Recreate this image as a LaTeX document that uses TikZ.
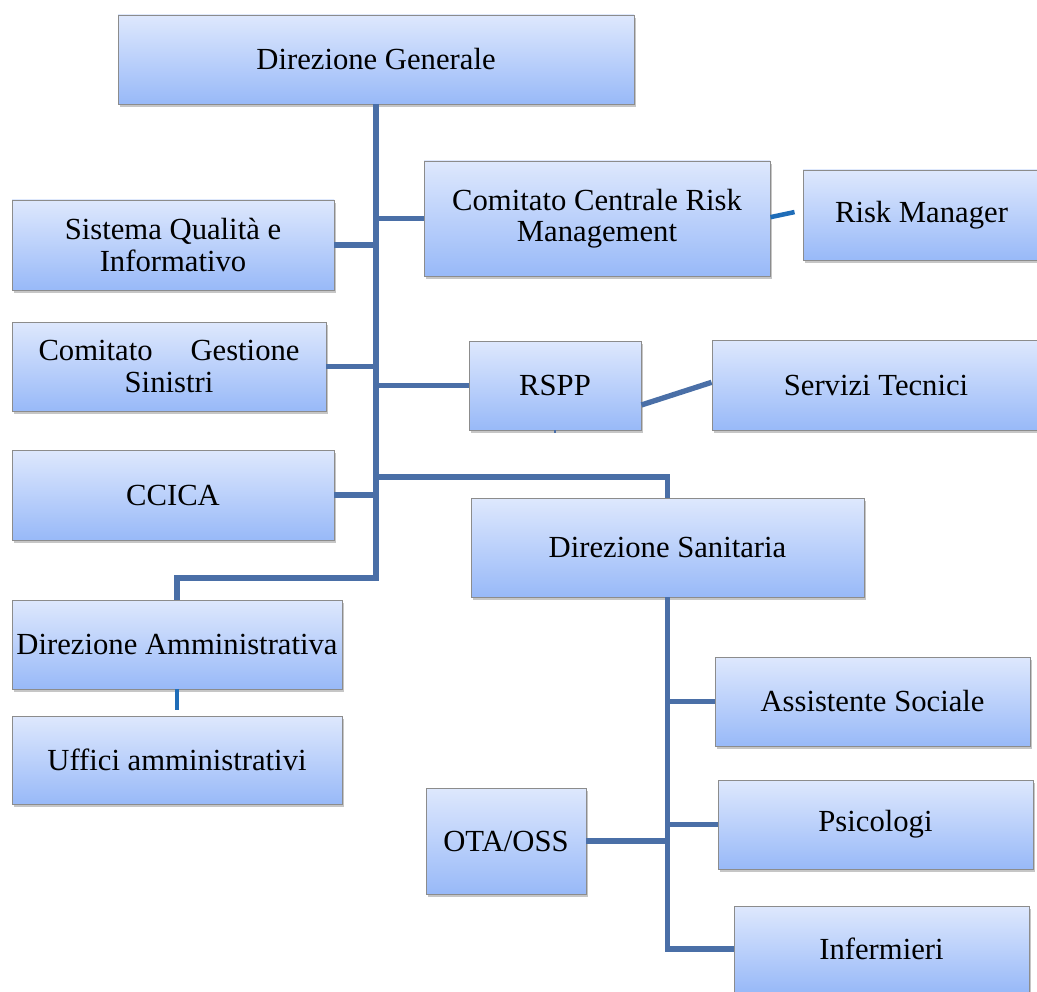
\documentclass[tikz,border=0pt]{standalone}
\usepackage{fontspec}
\setmainfont{Liberation Serif}
\usetikzlibrary{shadows}
\definecolor{boxtop}{HTML}{DEE8FD}
\definecolor{boxbot}{HTML}{98B9F8}
\definecolor{conn}{HTML}{4A6FA7}
\definecolor{conn2}{HTML}{1F6DB8}
\tikzset{
 orgbox/.style={draw=black!45, line width=0.7pt, top color=boxtop, bottom color=boxbot,
   inner sep=0pt, align=center, font=\fontsize{23}{23.5}\selectfont,
   drop shadow={shadow xshift=1.8pt, shadow yshift=-2.2pt, opacity=0.45}},
 link/.style={draw=conn, line width=4pt},
 link2/.style={draw=conn2, line width=3.4pt},
}
\newcommand\orgnode[6]{\node[orgbox, minimum width={(#4-#2)*0.75pt}, minimum height={(#5-#3)*0.75pt}] (#1) at ({(#2+#4)/2},{(#3+#5)/2}) {#6};}
\begin{document}
\begin{tikzpicture}[x=0.75pt,y=-0.75pt]
\useasboundingbox (0,0) rectangle (1037,991);
\clip (0,0) rectangle (1037,991);
\orgnode{dg}{118}{15}{634}{104}{Direzione Generale}
\orgnode{ccrm}{424}{161}{770}{276}{Comitato Centrale Risk\\Management}
\orgnode{rm}{803}{170}{1040}{260}{Risk Manager}
\orgnode{sq}{12}{200}{334}{290}{Sistema Qualità e\\Informativo}
\orgnode{cgs}{12}{322}{326}{411}{\makebox[261\dimexpr 0.75pt\relax]{Comitato\hfill Gestione}\\Sinistri}
\orgnode{rspp}{469}{341}{641}{430}{RSPP}
\orgnode{st}{712}{340}{1040}{430}{Servizi Tecnici}
\orgnode{ccica}{12}{450}{334}{540}{CCICA}
\orgnode{ds}{471}{498}{864}{597}{Direzione Sanitaria}
\orgnode{da}{12}{600}{342}{689}{Direzione Amministrativa}
\orgnode{ua}{12}{716}{342}{804}{Uffici amministrativi}
\orgnode{as}{715}{657}{1030}{746}{Assistente Sociale}
\orgnode{ps}{718}{780}{1033}{869}{Psicologi}
\orgnode{ota}{426}{788}{586}{894}{OTA/OSS}
\orgnode{inf}{734}{906}{1029}{992}{Infermieri}
\coordinate (t) at (376,578);
\coordinate (b) at (376,477);
\draw[link] (dg.south -| t) -- (t) -| (da.north);
\draw[link] (ccrm.west) -- (ccrm.west -| t);
\draw[link] (sq.east) -- (sq.east -| t);
\draw[link] (cgs.east) -- (cgs.east -| t);
\draw[link] (rspp.west) -- (rspp.west -| t);
\draw[link] (ccica.east) -- (ccica.east -| t);
\draw[link] (b) -| (ds.north);
\draw[link] (ds.south) -- (inf.west -| ds.south) -- (inf.west);
\draw[link] (as.west) -- (as.west -| ds.south);
\draw[link] (ps.west) -- (ps.west -| ds.south);
\draw[link] (ota.east) -- (ota.east -| ds.south);
\draw[link] ([yshift=-14.6pt]rspp.east) -- ([yshift=2pt]st.west);
\draw[link, line width=2pt] (rspp.south) -- ([yshift=-2pt]rspp.south);
\draw[link2] ([yshift=1pt]ccrm.east) -- ([xshift=-6pt,yshift=2.2pt]rm.west);
\draw[link2] (da.south) -- ([yshift=4.5pt]ua.north);
\end{tikzpicture}
\end{document}
